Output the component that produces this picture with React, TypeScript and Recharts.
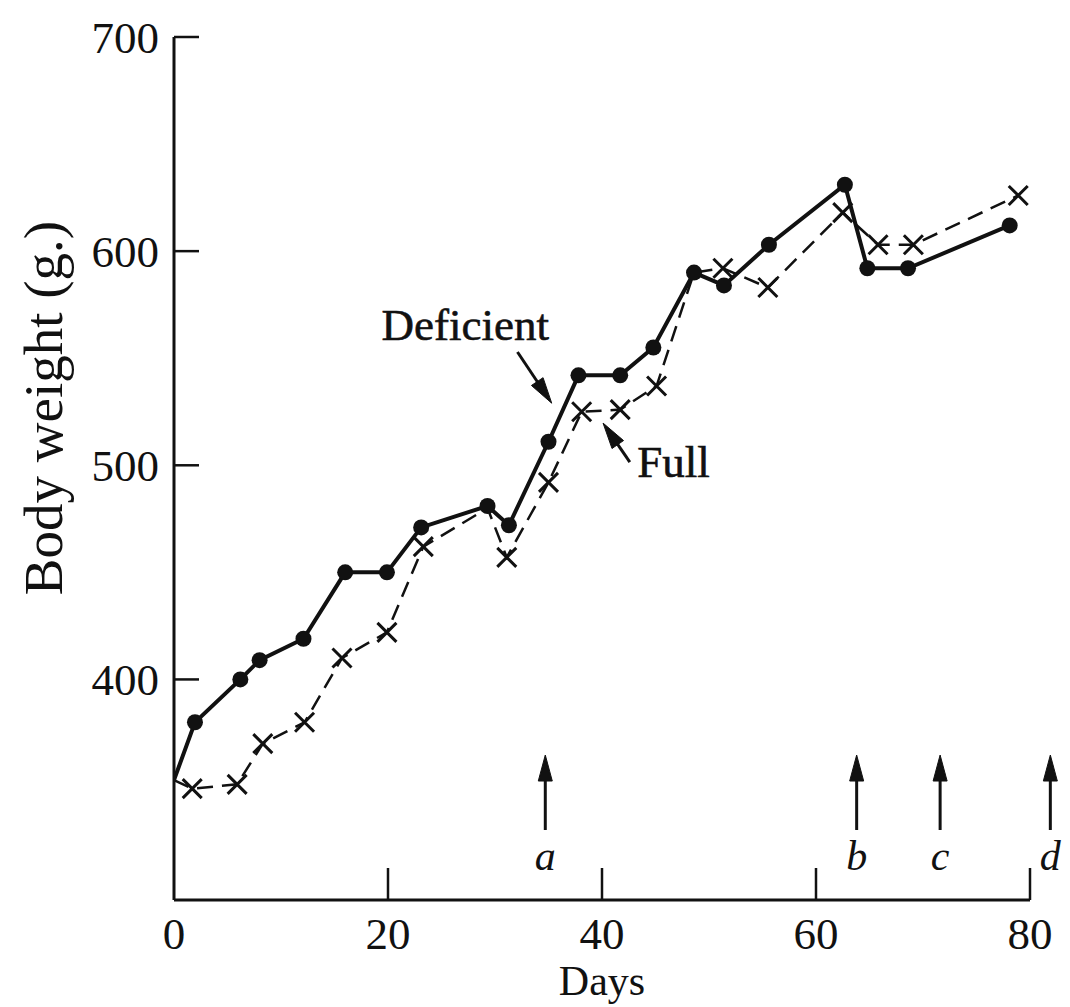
import React from 'react';
import { LineChart, Line, XAxis, YAxis, ReferenceLine, ReferenceDot } from 'recharts';

// ---- data ----
const deficientDays = [0, 1.96, 6.2, 8.0, 12.1, 16.0, 19.9, 23.1, 29.3, 31.3, 35.0, 37.8, 41.7, 44.8, 48.6, 51.4, 55.6, 62.7, 64.8, 68.6, 78.1];
const deficientWeights = [353, 380, 400, 409, 419, 450, 450, 471, 481, 472, 511, 542, 542, 555, 590, 584, 603, 631, 592, 592, 612];

const fullDays = [0, 1.7, 5.9, 8.3, 12.2, 15.7, 19.9, 23.3, 29.3, 31.1, 35.0, 38.1, 41.7, 45.1, 48.6, 51.3, 55.5, 62.5, 65.8, 69.1, 78.9];
const fullWeights = [353, 349, 351, 370, 380, 410, 422, 462, 480, 457, 492, 525, 526, 537, 590, 592, 583, 618, 603, 603, 626];
// points of the "Full" series whose marker is hidden beneath a "Deficient" dot
const fullHiddenMarkers = [0, 8, 14];

const xTicks = [0, 20, 40, 60, 80];
const yTicks = [400, 500, 600, 700];

const eventDays = [34.7, 63.8, 71.6, 81.9];
const eventLabels = ['a', 'b', 'c', 'd'];
const eventTail = 329.7;
const eventTip = 364.7;

const deficientData = deficientDays.map((d, i) => ({ day: d, w: deficientWeights[i] }));
const fullData = fullDays.map((d, i) => ({ day: d, w: fullWeights[i] }));

const FONT = '"Liberation Serif", "Times New Roman", serif';
const INK = '#111';

function arrowPath(x1: number, y1: number, x2: number, y2: number, len: number, half: number) {
  const dx = x2 - x1;
  const dy = y2 - y1;
  const L = Math.sqrt(dx * dx + dy * dy) || 1;
  const ux = dx / L;
  const uy = dy / L;
  const bx = x2 - ux * len;
  const by = y2 - uy * len;
  const px = -uy * half;
  const py = ux * half;
  return {
    shaftEnd: { x: x2 - ux * len * 0.6, y: y2 - uy * len * 0.6 },
    head: `M${x2},${y2}L${bx + px},${by + py}L${bx - px},${by - py}Z`,
  };
}

const XTick = (props: any) => {
  const { x, y, payload } = props;
  return (
    <g>
      {payload.value !== 0 && (
        <line x1={x} y1={y} x2={x} y2={y - 32} stroke={INK} strokeWidth={2.5} />
      )}
      <text x={x} y={y + 49} textAnchor="middle" fontFamily={FONT} fontSize={45} fill={INK}>
        {payload.value}
      </text>
    </g>
  );
};

const YTick = (props: any) => {
  const { x, y, payload } = props;
  return (
    <g>
      <line x1={x} y1={y} x2={x + 25} y2={y} stroke={INK} strokeWidth={2.5} />
      <text x={x - 15} y={y + 16} textAnchor="end" fontFamily={FONT} fontSize={45} fill={INK}>
        {payload.value}
      </text>
    </g>
  );
};

const DefDot = (props: any) => {
  const { cx, cy, index } = props;
  if (index === 0) return <g key={`dd-${index}`} />;
  return <circle key={`dd-${index}`} cx={cx} cy={cy} r={8} fill={INK} />;
};

const FullDot = (props: any) => {
  const { cx, cy, index } = props;
  if (fullHiddenMarkers.includes(index)) return <g key={`fd-${index}`} />;
  const s = 9.5;
  return (
    <path
      key={`fd-${index}`}
      d={`M${cx - s},${cy - s}L${cx + s},${cy + s}M${cx + s},${cy - s}L${cx - s},${cy + s}`}
      stroke={INK}
      strokeWidth={3}
      fill="none"
    />
  );
};

const makeArrow = (label?: string) => (p: any) => {
  const { x1, y1, x2, y2 } = p;
  const a = arrowPath(x1, y1, x2, y2, 26, 7);
  return (
    <g>
      <line x1={x1} y1={y1} x2={a.shaftEnd.x} y2={a.shaftEnd.y} stroke={INK} strokeWidth={3} />
      <path d={a.head} fill={INK} stroke={INK} strokeWidth={1} />
      {label && (
        <text x={x1} y={y1 + 40} textAnchor="middle" fontFamily={FONT} fontStyle="italic" fontSize={42} fill={INK}>
          {label}
        </text>
      )}
    </g>
  );
};

const makeText = (t: string) => (p: any) => (
  <text x={p.cx} y={p.cy} fontFamily={FONT} fontSize={45} fill={INK} stroke={INK} strokeWidth={0.6}>
    {t}
  </text>
);

export default function App() {
  return (
    <div style={{ position: 'absolute', left: 0, top: 0, background: '#fff' }}>
      <LineChart width={1070} height={1007} margin={{ top: 37, right: 40, left: 0, bottom: 0 }}>
        <XAxis
          dataKey="day"
          type="number"
          domain={[0, 80]}
          ticks={xTicks}
          interval={0}
          allowDataOverflow
          height={107}
          tickSize={0}
          tickMargin={0}
          tickLine={false}
          tick={XTick}
          axisLine={{ stroke: INK, strokeWidth: 3 }}
          label={{
            content: () => (
              <text x={602} y={995} textAnchor="middle" fontFamily={FONT} fontSize={42} fill={INK}>
                Days
              </text>
            ),
          }}
        />
        <YAxis
          type="number"
          domain={[297, 700]}
          ticks={yTicks}
          interval={0}
          allowDataOverflow
          width={174}
          tickSize={0}
          tickMargin={0}
          tickLine={false}
          tick={YTick}
          axisLine={{ stroke: INK, strokeWidth: 3 }}
          label={{
            content: () => (
              <text
                x={62}
                y={408}
                transform="rotate(-90, 62, 408)"
                textAnchor="middle"
                fontFamily={FONT}
                fontSize={55}
                fill={INK}
              >
                Body weight (g.)
              </text>
            ),
          }}
        />
        <Line
          data={fullData}
          dataKey="w"
          type="linear"
          stroke={INK}
          strokeWidth={2.5}
          strokeDasharray="16 9"
          dot={FullDot}
          activeDot={false}
          isAnimationActive={false}
        />
        <Line
          data={deficientData}
          dataKey="w"
          type="linear"
          stroke={INK}
          strokeWidth={4}
          dot={DefDot}
          activeDot={false}
          isAnimationActive={false}
        />
        <ReferenceDot x={19.4} y={558.5} r={0} ifOverflow="visible" shape={makeText('Deficient')} />
        <ReferenceDot x={43.3} y={494.5} r={0} ifOverflow="visible" shape={makeText('Full')} />
        <ReferenceLine
          segment={[{ x: 32.1, y: 552.9 }, { x: 35.3, y: 529 }]}
          ifOverflow="visible"
          shape={makeArrow()}
        />
        <ReferenceLine
          segment={[{ x: 42.6, y: 501.5 }, { x: 40.1, y: 519.7 }]}
          ifOverflow="visible"
          shape={makeArrow()}
        />
        {eventDays.map((d, i) => (
          <ReferenceLine
            key={eventLabels[i]}
            segment={[{ x: d, y: eventTail }, { x: d, y: eventTip }]}
            ifOverflow="visible"
            shape={makeArrow(eventLabels[i])}
          />
        ))}
      </LineChart>
    </div>
  );
}
